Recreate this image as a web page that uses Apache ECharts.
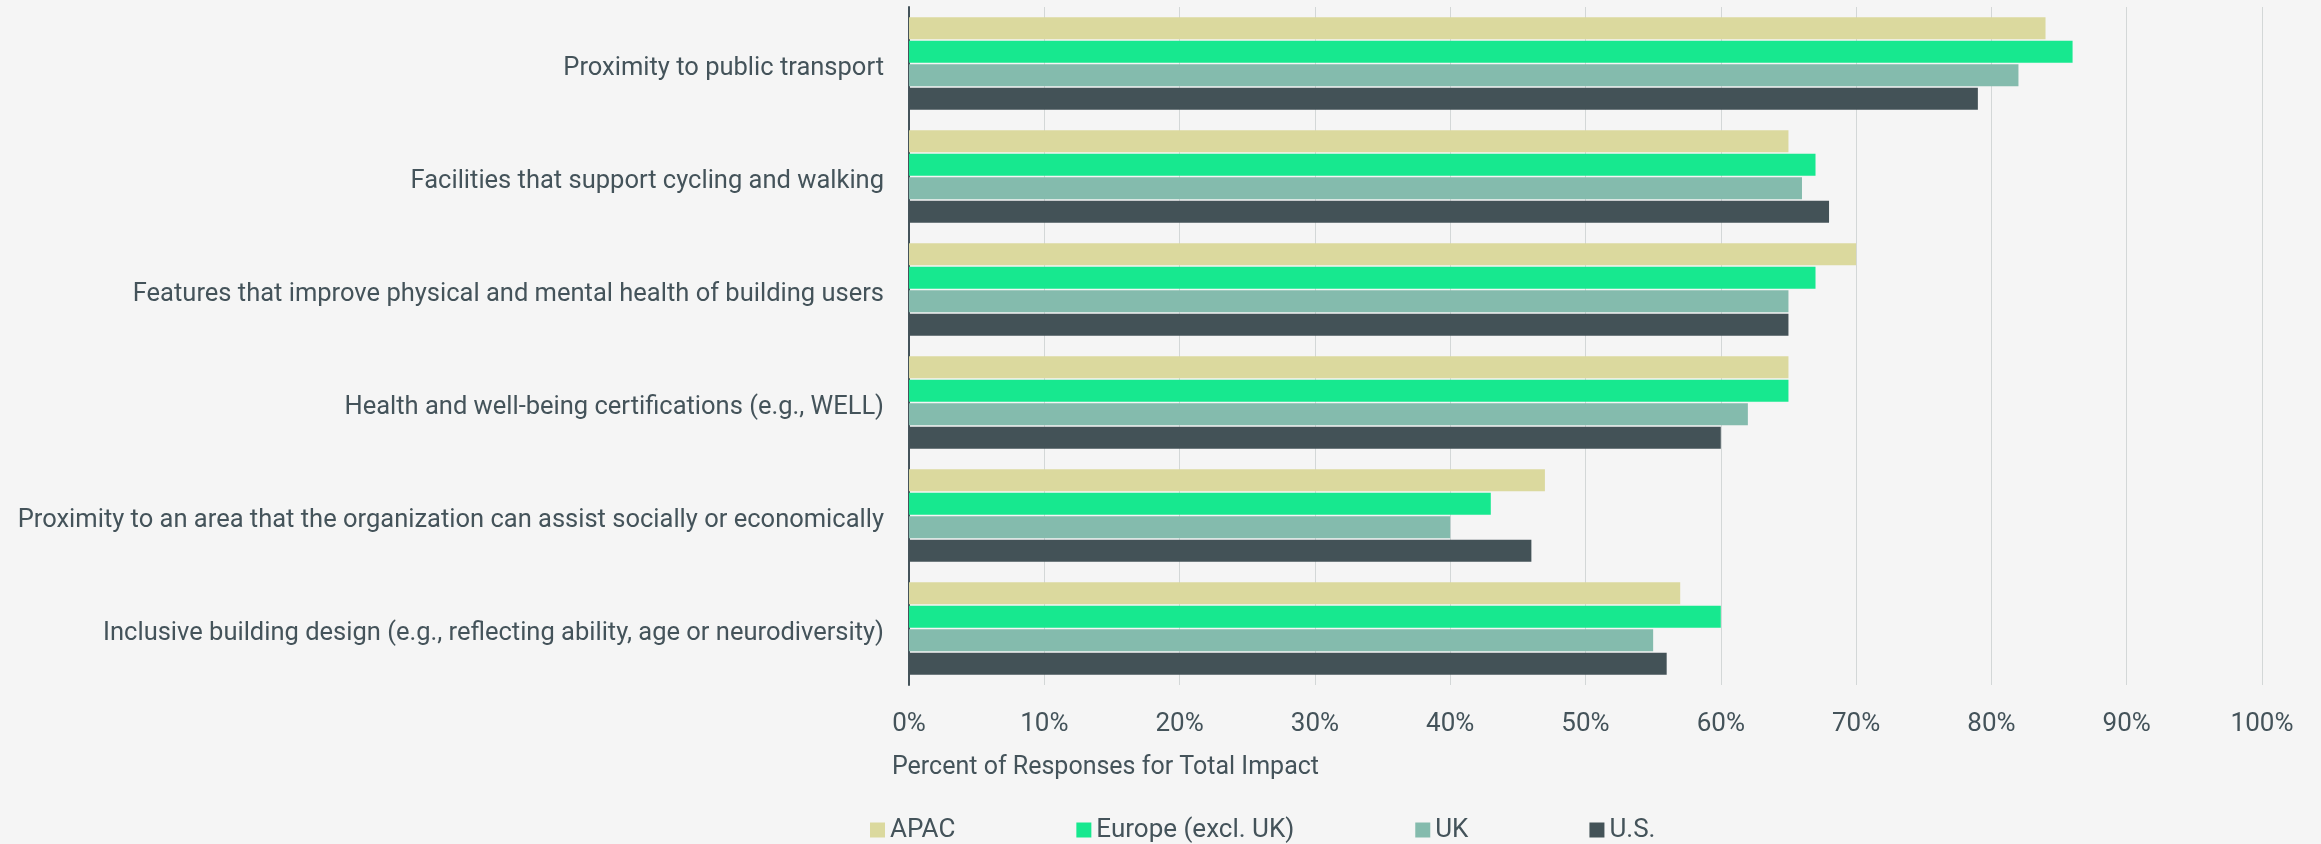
<!DOCTYPE html>
<html>
<head>
<meta charset="utf-8">
<script src="https://cdn.jsdelivr.net/npm/echarts@6/dist/echarts.min.js"></script>
<style>
  html, body { margin: 0; padding: 0; background: #f5f5f5; }
  #chart { width: 2321px; height: 844px; }
</style>
</head>
<body>
<div id="chart"></div>
<script>
// categories, top to bottom
const categories = [
    'Proximity to public transport',
    'Facilities that support cycling and walking',
    'Features that improve physical and mental health of building users',
    'Health and well-being certifications (e.g., WELL)',
    'Proximity to an area that the organization can assist socially or economically',
    'Inclusive building design (e.g., reflecting ability, age or neurodiversity)'
]

const regions = ['APAC', 'Europe (excl. UK)', 'UK', 'U.S.']

const apac = [84, 65, 70, 65, 47, 57]
const europe = [86, 67, 67, 65, 43, 60]
const uk = [82, 66, 65, 62, 40, 55]
const us = [79, 68, 65, 60, 46, 56]

const xTicks = [0, 10, 20, 30, 40, 50, 60, 70, 80, 90, 100]

const colors = ['#dbd99e', '#17e88f', '#84bbad', '#435257']
const textColor = '#44535a'
const fontFamily = 'Roboto, "Noto Sans", sans-serif'

const seriesData = [apac, europe, uk, us]

let chart = echarts.init(document.getElementById('chart'), null, { renderer: 'canvas' })

let series = regions.map((name, idx) => {
    return {
        name: name,
        type: 'bar',
        data: seriesData[idx],
        barGap: '7%',
        barCategoryGap: '18%',
        itemStyle: { color: colors[idx] },
        animation: false
    }
})

let options = {
    backgroundColor: '#f5f5f5',
    animation: false,
    textStyle: { fontFamily: fontFamily },
    title: {
        text: 'Percent of Responses for Total Impact',
        left: 892,
        top: 755,
        padding: 0,
        textStyle: {
            color: textColor,
            fontSize: 25,
            fontWeight: 'normal',
            fontFamily: fontFamily
        }
    },
    legend: {
        data: regions,
        left: 870,
        top: 817,
        padding: 0,
        itemWidth: 15,
        itemHeight: 15,
        itemGap: 121,
        icon: 'rect',
        textStyle: {
            color: textColor,
            fontSize: 26,
            fontFamily: fontFamily
        }
    },
    grid: {
        left: 909,
        right: 59,
        top: 7,
        bottom: 159,
        containLabel: false
    },
    xAxis: {
        type: 'value',
        min: xTicks[0],
        max: xTicks[xTicks.length - 1],
        interval: 10,
        axisLine: { show: false },
        axisTick: { show: false },
        splitLine: {
            show: true,
            lineStyle: { color: '#d3d7d7', width: 1 }
        },
        axisLabel: {
            margin: 26,
            fontSize: 26,
            color: textColor,
            formatter: (value) => value + '%'
        }
    },
    yAxis: {
        type: 'category',
        data: categories,
        inverse: true,
        axisLine: {
            show: true,
            lineStyle: { color: textColor, width: 2 }
        },
        axisTick: { show: false },
        splitLine: { show: false },
        axisLabel: {
            margin: 25,
            fontSize: 25.5,
            color: textColor,
            verticalAlign: 'top',
            lineHeight: 10
        }
    },
    series: series
}

chart.setOption(options)
</script>
</body>
</html>
